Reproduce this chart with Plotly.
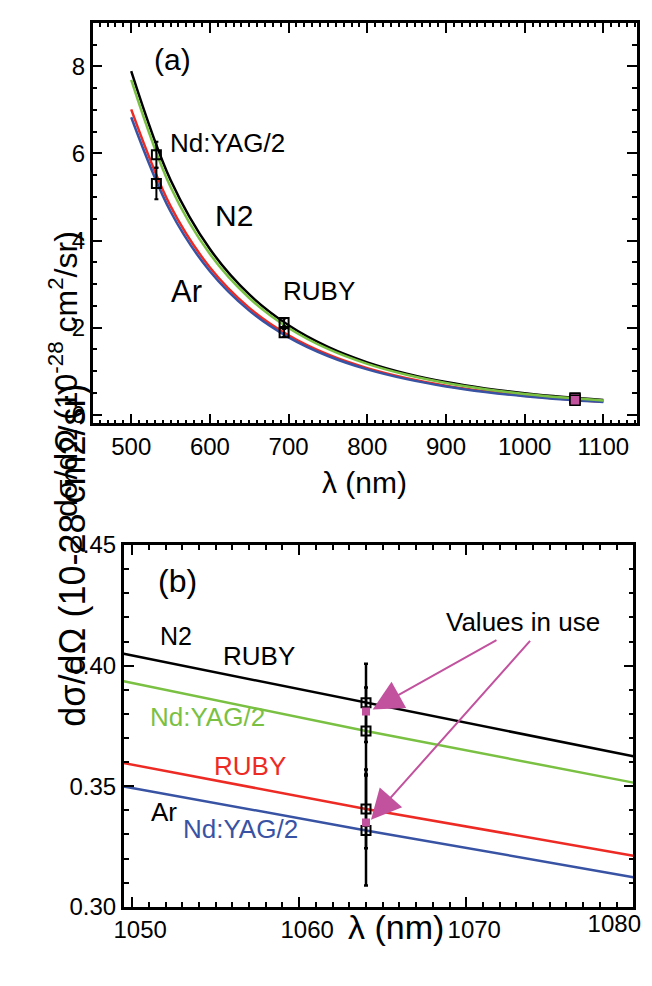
import plotly.graph_objects as go

# ---------------- data: panel (a) ----------------
lam_a = [500, 550, 600, 650, 700, 750, 800, 850, 900, 950, 1000, 1050, 1100]
n2_ruby_a = [7.89, 5.39, 3.805, 2.762, 2.054, 1.558, 1.204, 0.945, 0.752, 0.605, 0.493, 0.406, 0.337]
n2_yag_a = [7.69, 5.23, 3.69, 2.68, 1.993, 1.511, 1.168, 0.917, 0.729, 0.587, 0.478, 0.394, 0.327]
ar_ruby_a = [7.01, 4.79, 3.381, 2.454, 1.825, 1.384, 1.070, 0.840, 0.668, 0.538, 0.438, 0.361, 0.299]
ar_yag_a = [6.83, 4.666, 3.294, 2.391, 1.778, 1.349, 1.042, 0.818, 0.651, 0.524, 0.427, 0.352, 0.292]

lam_meas = [532, 694.3, 1064]
n2_meas = [5.97, 2.12, 0.385]
n2_err = [0.30, 0.09, 0.016]
ar_meas = [5.31, 1.88, 0.341]
ar_err = [0.36, 0.09, 0.016]

lam_use = [1064, 1064]
val_use = [0.381, 0.335]

# ---------------- data: panel (b) ----------------
lam_b = [1049.5, 1064.0, 1080.0]
n2_ruby_b = [0.4049, 0.3846, 0.3624]
n2_yag_b = [0.3935, 0.3729, 0.3515]
ar_ruby_b = [0.3596, 0.3406, 0.3212]
ar_yag_b = [0.3499, 0.3317, 0.3123]

lam_pts_b = [1064, 1064, 1064, 1064]
val_pts_b = [0.3846, 0.3729, 0.3406, 0.3317]
err_pts_b = [0.0162, 0.0180, 0.0163, 0.0228]

xt_a = [500, 600, 700, 800, 900, 1000, 1100]
yt_a = [0, 2, 4, 6, 8]
xt_b = [1050, 1060, 1070, 1080]
xt_b_text = ["1050", "1060", "1070", ""]
yt_b = [0.30, 0.35, 0.40, 0.45]

BLACK = "#000000"
GREEN = "#7ac143"
RED = "#ee2a24"
BLUE = "#3953a4"
PINK = "#c2529e"
FONT = "Liberation Sans, Arial, sans-serif"

fig = go.Figure()

# panel (a) curves
for ys, col in [(n2_ruby_a, BLACK), (ar_ruby_a, RED), (ar_yag_a, BLUE), (n2_yag_a, GREEN)]:
    fig.add_trace(go.Scatter(x=lam_a, y=ys, mode="lines", line=dict(color=col, width=2.5, shape="spline"),
                             xaxis="x", yaxis="y", showlegend=False, hoverinfo="skip"))

for ys, es in [(n2_meas, n2_err), (ar_meas, ar_err)]:
    fig.add_trace(go.Scatter(x=lam_meas, y=ys, mode="markers",
                             marker=dict(symbol="square-open", size=9, color=BLACK, line=dict(width=2, color=BLACK)),
                             error_y=dict(type="data", array=es, color=BLACK, thickness=2, width=2),
                             xaxis="x", yaxis="y", showlegend=False))
fig.add_trace(go.Scatter(x=lam_use, y=val_use, mode="markers",
                         marker=dict(symbol="square", size=10, color=PINK, line=dict(width=1.5, color=BLACK)),
                         xaxis="x", yaxis="y", showlegend=False))

# panel (b) lines (the black one goes through the overlaying twin axis x3, same range as x2)
fig.add_trace(go.Scatter(x=lam_b, y=n2_ruby_b, mode="lines", line=dict(color=BLACK, width=2.5),
                         xaxis="x3", yaxis="y2", showlegend=False))
for ys, col in [(n2_yag_b, GREEN), (ar_ruby_b, RED), (ar_yag_b, BLUE)]:
    fig.add_trace(go.Scatter(x=lam_b, y=ys, mode="lines", line=dict(color=col, width=2.5),
                             xaxis="x2", yaxis="y2", showlegend=False))
fig.add_trace(go.Scatter(x=lam_pts_b, y=val_pts_b, mode="markers",
                         marker=dict(symbol="square-open", size=9, color=BLACK, line=dict(width=2, color=BLACK)),
                         error_y=dict(type="data", array=err_pts_b, color=BLACK, thickness=2.5, width=2),
                         xaxis="x2", yaxis="y2", showlegend=False))
fig.add_trace(go.Scatter(x=lam_use, y=val_use, mode="markers",
                         marker=dict(symbol="square", size=8, color=PINK, line=dict(width=0)),
                         xaxis="x2", yaxis="y2", showlegend=False))

W, H = 652, 986
def px(x):
    return x / W
def py(y):
    return 1 - y / H

axis_common = dict(showline=True, linewidth=2.5, linecolor=BLACK, mirror="ticks", ticks="inside",
                   ticklen=10, tickwidth=2, tickcolor=BLACK, showgrid=False, zeroline=False,
                   tickfont=dict(family=FONT, size=24, color=BLACK))

XB_RANGE = [1049.5, 1080.0]
XB_DOMAIN = [px(117), px(641)]

fig.update_layout(
    width=W, height=H, margin=dict(l=0, r=0, t=0, b=0),
    paper_bgcolor="white", plot_bgcolor="white",
    font=dict(family=FONT, color=BLACK),
    xaxis=dict(domain=[px(85), px(645)], range=[451, 1143], anchor="y", tickvals=xt_a,
               minor=dict(dtick=10, tick0=0, ticklen=4, tickwidth=1.5, ticks="inside", tickcolor=BLACK),
               **axis_common),
    yaxis=dict(domain=[py(421), py(9)], range=[-0.2, 9.0], anchor="x", tickvals=yt_a,
               minor=dict(dtick=0.5, tick0=0, ticklen=5, tickwidth=2, ticks="inside", tickcolor=BLACK),
               **axis_common),
    xaxis2=dict(domain=XB_DOMAIN, range=XB_RANGE, anchor="y2", tickvals=xt_b,
                ticktext=xt_b_text, ticklabelshift=8,
                minor=dict(dtick=1, tick0=0, ticklen=5, tickwidth=2, ticks="inside", tickcolor=BLACK),
                **axis_common),
    xaxis3=dict(domain=XB_DOMAIN, range=XB_RANGE, anchor="y2", overlaying="x2", side="bottom",
                tickvals=[1080], ticktext=["1080"], ticks="", showline=False, showgrid=False,
                zeroline=False, ticklabelshift=-19,
                tickfont=dict(family=FONT, size=24, color=BLACK)),
    yaxis2=dict(domain=[py(918), py(546)], range=[0.30, 0.45], anchor="x2", tickvals=yt_b, tickformat=".2f",
                minor=dict(dtick=0.01, tick0=0, ticklen=5, tickwidth=2, ticks="inside", tickcolor=BLACK),
                **axis_common),
)

ann = []
def txt(x, y, s, size, color=BLACK, xref="x", yref="y", **kw):
    ann.append(dict(x=x, y=y, xref=xref, yref=yref, text=s, showarrow=False,
                    font=dict(family=FONT, size=size, color=color), **kw))

# panel (a) labels
txt(552.8, 8.15, "(a)", 30)
txt(622.7, 6.23, "Nd:YAG/2", 26)
txt(631, 4.58, "N2", 30)
txt(570, 2.83, "Ar", 31)
txt(739, 2.83, "RUBY", 26)

# panel (b) labels
txt(1052.7, 0.4352, "(b)", 32, xref="x2", yref="y2")
txt(1052.6, 0.4121, "N2", 25, xref="x2", yref="y2")
txt(1057.6, 0.4040, "RUBY", 26, xref="x2", yref="y2")
txt(1054.5, 0.3786, "Nd:YAG/2", 26, color=GREEN, xref="x2", yref="y2")
txt(1057.06, 0.3584, "RUBY", 26, color=RED, xref="x2", yref="y2")
txt(1051.9, 0.3394, "Ar", 26, xref="x2", yref="y2")
txt(1056.5, 0.3321, "Nd:YAG/2", 26, color=BLUE, xref="x2", yref="y2")
txt(1073.4, 0.4182, "Values in use", 26, xref="x2", yref="y2")

# arrows
for hx, hy, tx, ty in [(1064.4, 0.3818, 1071.9, 0.4109), (1064.3, 0.3361, 1073.9, 0.4109)]:
    ann.append(dict(x=hx, y=hy, xref="x2", yref="y2", ax=tx, ay=ty, axref="x2", ayref="y2",
                    text="", showarrow=True, arrowhead=2, arrowsize=3, arrowwidth=2, arrowcolor=PINK,
                    standoff=0))

# axis titles
txt(px(32), py(221), "dσ/dΩ (10<sup>-28</sup> cm<sup>2</sup>/sr)", 32, xref="paper", yref="paper", textangle=-90)
txt(px(365), py(482), "λ (nm)", 30, xref="paper", yref="paper")
txt(px(41), py(735), "dσ/dΩ (10-28 cm2/sr)", 36, xref="paper", yref="paper", textangle=-90)
txt(px(397), py(960), "λ (nm)", 34, xref="paper", yref="paper")

fig.update_layout(annotations=ann)
fig.write_html("out.html")
